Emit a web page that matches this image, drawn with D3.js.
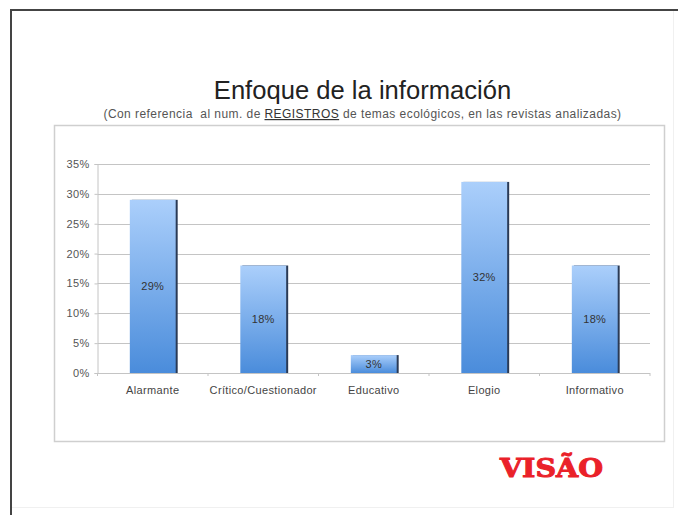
<!DOCTYPE html>
<html>
<head>
<meta charset="utf-8">
<script src="https://cdn.jsdelivr.net/npm/d3@7"></script>
<style>
  body { margin: 0; background: #fff; }
  svg { display: block; }
</style>
</head>
<body>
<div id="chart"></div>
<script>
const categories = ["Alarmante", "Crítico/Cuestionador", "Educativo", "Elogio", "Informativo"];
const values = [29, 18, 3, 32, 18];
const yTicks = [0, 5, 10, 15, 20, 25, 30, 35];

const width = 678;
const height = 515;
const font = "Liberation Sans, Arial, sans-serif";

// plot area inside the chart box
const plot = { left: 97.5, right: 650, top: 164, bottom: 373 };

const svg = d3.select("#chart")
    .append("svg")
    .attr("width", width)
    .attr("height", height);

// slide frame (cropped on the right / bottom)
svg.append("rect")
    .attr("x", 10.5).attr("y", 9.5)
    .attr("width", 663).attr("height", 498)
    .attr("fill", "#fff")
    .attr("stroke", "#f0f0f0");
svg.append("path")
    .attr("d", "M11,515 V10 H678")
    .attr("fill", "none")
    .attr("stroke", "#444")
    .attr("stroke-width", 2);

// chart box
svg.append("rect")
    .attr("x", 54.5).attr("y", 125.5)
    .attr("width", 610).attr("height", 316)
    .attr("fill", "#fff")
    .attr("stroke", "#cfcfcf")
    .attr("stroke-width", 1.5);

// titles
svg.append("text")
    .attr("x", 362.5).attr("y", 99)
    .attr("text-anchor", "middle")
    .attr("font-family", font)
    .attr("font-size", 25.6)
    .attr("fill", "#222")
    .text("Enfoque de la información");

const sub = svg.append("text")
    .attr("x", 362.5).attr("y", 118)
    .attr("text-anchor", "middle")
    .attr("font-family", font)
    .attr("font-size", 12)
    .attr("letter-spacing", 0.44)
    .attr("fill", "#555")
    .style("white-space", "pre");
sub.append("tspan").text("(Con referencia  al num. de ");
sub.append("tspan").attr("text-decoration", "underline").attr("fill", "#333").text("REGISTROS");
sub.append("tspan").text(" de temas ecológicos, en las revistas analizadas)");

// scales
const x = d3.scaleBand()
    .domain(categories)
    .range([plot.left, plot.right])
    .paddingInner(0.585)
    .paddingOuter(0.2925);

const y = d3.scaleLinear()
    .domain([0, 35])
    .range([plot.bottom, plot.top]);

// gradient for bars
const defs = svg.append("defs");
const grad = defs.append("linearGradient")
    .attr("id", "barGrad")
    .attr("x1", 0).attr("y1", 0).attr("x2", 0).attr("y2", 1);
grad.append("stop").attr("offset", "0%").attr("stop-color", "#abcffb");
grad.append("stop").attr("offset", "100%").attr("stop-color", "#4a8cdb");

// grid lines
svg.append("g")
    .selectAll("line")
    .data(yTicks)
    .join("line")
    .attr("x1", plot.left)
    .attr("x2", plot.right)
    .attr("y1", d => Math.round(y(d)) + 0.5)
    .attr("y2", d => Math.round(y(d)) + 0.5)
    .attr("stroke", "#c4c4c4")
    .attr("stroke-width", 1);

// y axis
const yAxis = svg.append("g")
    .attr("transform", `translate(${plot.left},0)`)
    .call(d3.axisLeft(y).tickValues(yTicks).tickFormat(d => d + "%").tickSize(3).tickPadding(5));
yAxis.select(".domain").attr("stroke", "#c4c4c4");
yAxis.selectAll(".tick line").attr("stroke", "#c4c4c4");
yAxis.selectAll("text")
    .attr("font-family", font)
    .attr("font-size", 11)
    .attr("letter-spacing", 0.3)
    .attr("fill", "#555");

// x axis
const xAxis = svg.append("g")
    .attr("transform", `translate(0,${plot.bottom})`)
    .call(d3.axisBottom(x).tickSize(0).tickPadding(13));
xAxis.select(".domain").remove();
xAxis.selectAll("text")
    .attr("font-family", font)
    .attr("font-size", 11)
    .attr("letter-spacing", 0.35)
    .attr("fill", "#444");

// band separator ticks
const step = x.step();
svg.append("g")
    .selectAll("line")
    .data(d3.range(categories.length + 1))
    .join("line")
    .attr("x1", i => plot.left + i * step)
    .attr("x2", i => plot.left + i * step)
    .attr("y1", plot.bottom)
    .attr("y2", plot.bottom + 3)
    .attr("stroke", "#c4c4c4");

// bars
const bars = svg.append("g")
    .selectAll("g")
    .data(categories.map((c, i) => ({ cat: c, val: values[i] })))
    .join("g");

bars.append("rect")
    .attr("x", d => x(d.cat) + 2)
    .attr("y", d => y(d.val))
    .attr("width", x.bandwidth())
    .attr("height", d => y(0) - y(d.val))
    .attr("fill", "#2a3a55");

bars.append("rect")
    .attr("x", d => x(d.cat))
    .attr("y", d => y(d.val))
    .attr("width", x.bandwidth())
    .attr("height", d => y(0) - y(d.val))
    .attr("fill", "url(#barGrad)");

bars.append("text")
    .attr("x", d => x(d.cat) + x.bandwidth() / 2)
    .attr("y", d => (y(d.val) + y(0)) / 2 + 4)
    .attr("text-anchor", "middle")
    .attr("font-family", font)
    .attr("font-size", 11)
    .attr("letter-spacing", 0.3)
    .attr("fill", "#333")
    .text(d => d.val + "%");

// logo
svg.append("text")
    .attr("x", 500).attr("y", 477)
    .attr("font-family", "DejaVu Serif, serif")
    .attr("font-weight", "bold")
    .attr("font-size", 26)
    .attr("textLength", 103)
    .attr("lengthAdjust", "spacingAndGlyphs")
    .attr("fill", "#ea2129")
    .attr("stroke", "#ea2129")
    .attr("stroke-width", 1)
    .text("VISÃO");
</script>
</body>
</html>
